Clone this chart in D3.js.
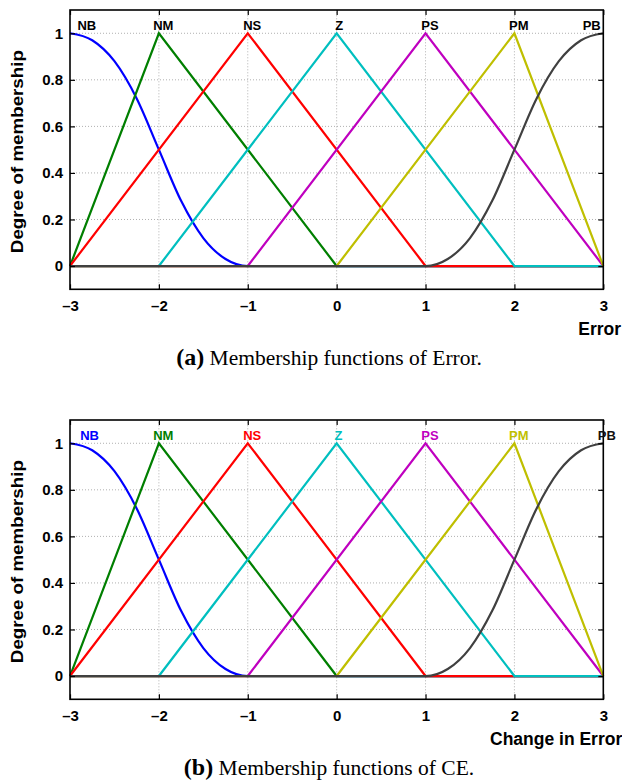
<!DOCTYPE html>
<html>
<head>
<meta charset="utf-8">
<script src="https://cdn.jsdelivr.net/npm/d3@7"></script>
<style>
  body { margin: 0; background: #fff; }
  svg { display: block; }
  .tick text { font-family: 'Liberation Sans', Arial, sans-serif; font-weight: bold; font-size: 15px; fill: #000; }
  .grid line { stroke: #b0b0b0; stroke-dasharray: 1 2; }
</style>
</head>
<body>
<svg id="chart" width="622" height="781"></svg>
<script>
// membership function names and their peak-label x positions (in data units)
const names = ['NB', 'NM', 'NS', 'Z', 'PS', 'PM', 'PB']
const labelXa = [-2.81, -1.95, -0.95, 0.03, 1.05, 2.05, 2.87]
const labelXb = [-2.78, -1.95, -0.95, 0.02, 1.05, 2.05, 3.04]

// breakpoints: [x, membership]
const nb = [[-3, 1], [-2.75, 0.97], [-2.5, 0.88], [-2.25, 0.72], [-2, 0.5], [-1.75, 0.28], [-1.5, 0.12], [-1.25, 0.03], [-1, 0], [3, 0]]
const nm = [[-3, 0], [-2, 1], [0, 0], [3, 0]]
const ns = [[-3, 0], [-1, 1], [1, 0], [3, 0]]
const z  = [[-3, 0], [-2, 0], [0, 1], [2, 0], [3, 0]]
const ps = [[-3, 0], [-1, 0], [1, 1], [3, 0]]
const pm = [[-3, 0], [0, 0], [2, 1], [3, 0]]
const pb = [[-3, 0], [1, 0], [1.25, 0.03], [1.5, 0.12], [1.75, 0.28], [2, 0.5], [2.25, 0.72], [2.5, 0.88], [2.75, 0.97], [3, 1]]
const series = [nb, nm, ns, z, ps, pm, pb]
const smooth = [true, false, false, false, false, false, true]

const xTicks = [-3, -2, -1, 0, 1, 2, 3]
const yTicks = [0, 0.2, 0.4, 0.6, 0.8, 1]

const colors = ['#0000ff', '#007f00', '#ff0000', '#00bfbf', '#bf00bf', '#bfbf00', '#404040']

const svg = d3.select('#chart')

const panels = [
  { top: 10, labelX: labelXa, colored: false, xlabel: 'Error', xlabelX: 621, anchor: 'end', tag: '(a)', caption: ' Membership functions of Error.' },
  { top: 420, labelX: labelXb, colored: true, xlabel: 'Change in Error', xlabelX: 490, anchor: 'start', tag: '(b)', caption: ' Membership functions of CE.' }
]

const left = 70, right = 603.3, plotH = 279.3

const fmt = d => d < 0 ? '\u2013' + Math.abs(d) : String(d)

panels.forEach(p => {
  const g = svg.append('g')
  const x = d3.scaleLinear().domain([-3, 3]).range([left, right])
  const y = d3.scaleLinear().domain([-0.1, 1.1]).range([p.top + plotH, p.top])

  // grid
  g.append('g').attr('class', 'grid')
    .selectAll('line').data(xTicks.slice(1, -1)).join('line')
    .attr('x1', d => x(d)).attr('x2', d => x(d))
    .attr('y1', y(-0.1)).attr('y2', y(1.1))
  g.append('g').attr('class', 'grid')
    .selectAll('line').data(yTicks).join('line')
    .attr('x1', left).attr('x2', right)
    .attr('y1', d => y(d)).attr('y2', d => y(d))

  // curves
  series.forEach((s, i) => {
    const line = d3.line()
      .x(d => x(d[0])).y(d => y(d[1]))
      .curve(smooth[i] ? d3.curveMonotoneX : d3.curveLinear)
    g.append('path')
      .datum(s)
      .attr('d', line)
      .attr('fill', 'none')
      .attr('stroke', colors[i])
      .attr('stroke-width', 2.2)
  })

  // axes with inward ticks on all sides
  g.append('g')
    .attr('transform', `translate(0,${y(-0.1)})`)
    .call(d3.axisBottom(x).tickValues(xTicks).tickFormat(fmt).tickSizeInner(-5).tickSizeOuter(0).tickPadding(11))
  g.append('g')
    .attr('transform', `translate(0,${y(1.1)})`)
    .call(d3.axisTop(x).tickValues(xTicks).tickFormat('').tickSizeInner(-5).tickSizeOuter(0))
  g.append('g')
    .attr('transform', `translate(${left},0)`)
    .call(d3.axisLeft(y).tickValues(yTicks).tickFormat(fmt).tickSizeInner(-5).tickSizeOuter(0).tickPadding(7))
  g.append('g')
    .attr('transform', `translate(${right},0)`)
    .call(d3.axisRight(y).tickValues(yTicks).tickFormat('').tickSizeInner(-5).tickSizeOuter(0))
  g.selectAll('.domain').remove()
  g.selectAll('.tick line').attr('stroke', '#000').attr('stroke-width', 1.2)

  g.append('rect')
    .attr('x', left).attr('y', p.top)
    .attr('width', right - left).attr('height', plotH)
    .attr('fill', 'none').attr('stroke', '#000').attr('stroke-width', 1.6)

  // names of the membership functions
  g.selectAll('.mf-label').data(names).join('text')
    .attr('class', 'mf-label')
    .attr('x', (d, i) => x(p.labelX[i]))
    .attr('y', y(1.015))
    .attr('text-anchor', 'middle')
    .attr('font-family', "'Liberation Sans', Arial, sans-serif")
    .attr('font-weight', 'bold')
    .attr('font-size', 13)
    .attr('fill', (d, i) => p.colored ? (i === 6 ? '#111' : colors[i]) : '#000')
    .text(d => d)

  // axis titles
  g.append('text')
    .attr('transform', `translate(23,${(y(-0.1) + y(1.1)) / 2 + 2}) rotate(-90)`)
    .attr('text-anchor', 'middle')
    .attr('font-family', "'Liberation Sans', Arial, sans-serif")
    .attr('font-weight', 'bold')
    .attr('font-size', 17)
    .attr('textLength', 203)
    .attr('lengthAdjust', 'spacingAndGlyphs')
    .text('Degree of membership')

  g.append('text')
    .attr('x', p.xlabelX).attr('y', y(-0.1) + 46)
    .attr('text-anchor', p.anchor)
    .attr('font-family', "'Liberation Sans', Arial, sans-serif")
    .attr('font-weight', 'bold')
    .attr('font-size', 17.5)
    .text(p.xlabel)

  // caption
  const cap = g.append('text')
    .attr('x', 329).attr('y', y(-0.1) + 76)
    .attr('text-anchor', 'middle')
    .attr('font-family', "'Liberation Serif', 'Times New Roman', serif")
    .attr('font-size', 21.5)
  cap.append('tspan').attr('font-weight', 'bold').attr('font-size', 24).text(p.tag)
  cap.append('tspan').text(p.caption)
})
</script>
</body>
</html>
